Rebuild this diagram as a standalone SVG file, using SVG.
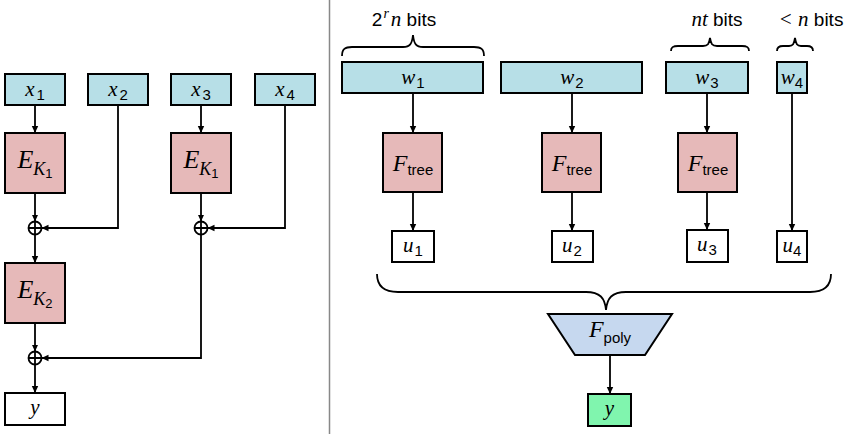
<svg xmlns="http://www.w3.org/2000/svg" width="852" height="434" viewBox="0 0 852 434">
<defs>
<marker id="ah" markerWidth="8" markerHeight="8" refX="7" refY="4" orient="auto" markerUnits="userSpaceOnUse">
<path d="M0,0.8 L7,4 L0,7.2 Z" fill="#000"/>
</marker>
<style>
.in{fill:#b7dfe7;stroke:#000;stroke-width:2}
.enc{fill:#e6b9b9;stroke:#000;stroke-width:2}
.out{fill:#fff;stroke:#000;stroke-width:2}
.ln{fill:none;stroke:#000;stroke-width:1.8}
.ar{fill:none;stroke:#000;stroke-width:1.8;marker-end:url(#ah)}
.br{fill:none;stroke:#000;stroke-width:1.8}
.m{font-family:"Liberation Serif",serif;font-style:italic;fill:#000}
.s{font-family:"Liberation Sans",sans-serif;fill:#000}
</style>
</defs>
<rect width="852" height="434" fill="#fff"/>
<line x1="329.5" y1="0" x2="329.5" y2="434" stroke="#888" stroke-width="1.5"/>

<!-- Left panel nodes -->
<g id="x1"><rect class="in" x="5" y="74" width="60" height="31"/><text x="35" y="96" text-anchor="middle"><tspan class="m" font-size="21">x</tspan><tspan class="s" font-size="15" dx="2" dy="4">1</tspan></text></g>
<g id="x2"><rect class="in" x="88" y="74" width="60" height="31"/><text x="118" y="96" text-anchor="middle"><tspan class="m" font-size="21">x</tspan><tspan class="s" font-size="15" dx="2" dy="4">2</tspan></text></g>
<g id="x3"><rect class="in" x="171" y="74" width="60" height="31"/><text x="201" y="96" text-anchor="middle"><tspan class="m" font-size="21">x</tspan><tspan class="s" font-size="15" dx="2" dy="4">3</tspan></text></g>
<g id="x4"><rect class="in" x="255" y="74" width="60" height="31"/><text x="285" y="96" text-anchor="middle"><tspan class="m" font-size="21">x</tspan><tspan class="s" font-size="15" dx="2" dy="4">4</tspan></text></g>
<g id="EK1a"><rect class="enc" x="5" y="133" width="60" height="60"/><text x="35" y="168" text-anchor="middle"><tspan class="m" font-size="26">E</tspan><tspan class="m" font-size="18" dy="7">K</tspan><tspan class="s" font-size="13" dy="3">1</tspan></text></g>
<g id="EK1b"><rect class="enc" x="171" y="133" width="60" height="60"/><text x="201" y="168" text-anchor="middle"><tspan class="m" font-size="26">E</tspan><tspan class="m" font-size="18" dy="7">K</tspan><tspan class="s" font-size="13" dy="3">1</tspan></text></g>
<g id="EK2"><rect class="enc" x="5" y="263" width="60" height="60"/><text x="35" y="298" text-anchor="middle"><tspan class="m" font-size="26">E</tspan><tspan class="m" font-size="18" dy="7">K</tspan><tspan class="s" font-size="13" dy="3">2</tspan></text></g>
<g id="yL"><rect class="out" x="5" y="393" width="60" height="32"/><text class="m" x="35" y="414" font-size="21" text-anchor="middle">y</text></g>
<g id="xor1"><circle cx="35" cy="228" r="6.5" fill="#fff" stroke="#000" stroke-width="1.8"/><path class="ln" d="M28.5,228 H41.5 M35,221.5 V234.5"/></g>
<g id="xor2"><circle cx="201" cy="228" r="6.5" fill="#fff" stroke="#000" stroke-width="1.8"/><path class="ln" d="M194.5,228 H207.5 M201,221.5 V234.5"/></g>
<g id="xor3"><circle cx="35" cy="358" r="6.5" fill="#fff" stroke="#000" stroke-width="1.8"/><path class="ln" d="M28.5,358 H41.5 M35,351.5 V364.5"/></g>

<!-- Right panel nodes -->
<g id="w1"><rect class="in" x="342" y="62" width="141" height="31"/><text x="413" y="84" text-anchor="middle"><tspan class="m" font-size="21">w</tspan><tspan class="s" font-size="15" dx="1" dy="4">1</tspan></text></g>
<g id="w2"><rect class="in" x="501" y="62" width="141" height="31"/><text x="572" y="84" text-anchor="middle"><tspan class="m" font-size="21">w</tspan><tspan class="s" font-size="15" dx="1" dy="4">2</tspan></text></g>
<g id="w3"><rect class="in" x="666" y="62" width="82" height="31"/><text x="707" y="84" text-anchor="middle"><tspan class="m" font-size="21">w</tspan><tspan class="s" font-size="15" dx="1" dy="4">3</tspan></text></g>
<g id="w4"><rect class="in" x="777" y="62" width="30" height="31"/><text x="792" y="84" text-anchor="middle"><tspan class="m" font-size="21">w</tspan><tspan class="s" font-size="15" dy="4">4</tspan></text></g>
<g id="F1"><rect class="enc" x="383" y="133" width="59" height="59"/><text x="413" y="171" text-anchor="middle"><tspan class="m" font-size="24">F</tspan><tspan class="s" font-size="15" dy="4">tree</tspan></text></g>
<g id="F2"><rect class="enc" x="542" y="133" width="59" height="59"/><text x="572" y="171" text-anchor="middle"><tspan class="m" font-size="24">F</tspan><tspan class="s" font-size="15" dy="4">tree</tspan></text></g>
<g id="F3"><rect class="enc" x="678" y="133" width="59" height="59"/><text x="708" y="171" text-anchor="middle"><tspan class="m" font-size="24">F</tspan><tspan class="s" font-size="15" dy="4">tree</tspan></text></g>
<g id="u1"><rect class="out" x="392" y="231" width="42" height="31"/><text x="413" y="252" text-anchor="middle"><tspan class="m" font-size="21">u</tspan><tspan class="s" font-size="15" dx="1" dy="4">1</tspan></text></g>
<g id="u2"><rect class="out" x="552" y="231" width="41" height="31"/><text x="572" y="252" text-anchor="middle"><tspan class="m" font-size="21">u</tspan><tspan class="s" font-size="15" dx="1" dy="4">2</tspan></text></g>
<g id="u3"><rect class="out" x="687" y="230" width="41" height="32"/><text x="707" y="251" text-anchor="middle"><tspan class="m" font-size="21">u</tspan><tspan class="s" font-size="15" dx="1" dy="4">3</tspan></text></g>
<g id="u4"><rect class="out" x="777" y="231" width="30" height="31"/><text x="792" y="252" text-anchor="middle"><tspan class="m" font-size="21">u</tspan><tspan class="s" font-size="15" dy="4">4</tspan></text></g>
<g id="Fpoly"><path d="M548,314 H672 L645,355 H575 Z" fill="#c6d8ef" stroke="#000" stroke-width="2"/><text x="610" y="337" text-anchor="middle"><tspan class="m" font-size="24">F</tspan><tspan class="s" font-size="15" dy="6">poly</tspan></text></g>
<g id="yR"><rect x="588" y="394" width="43" height="32" fill="#80f5ae" stroke="#000" stroke-width="2"/><text class="m" x="609.5" y="415" font-size="21" text-anchor="middle">y</text></g>

<!-- braces and labels -->
<g id="labels">
<path class="br" d="M342,56 C342,49 345,47 352,47 L403,47 C410,47 412,44 413,35 C414,44 416,47 423,47 L474,47 C481,47 484,49 484,56"/>
<path class="br" d="M671,51 C671,47 673,46 678,46 L703,46 C708,46 709,44 710,38 C711,44 712,46 717,46 L742,46 C747,46 749,47 749,51"/>
<path class="br" d="M777,51 C777,47 779,46 783,46 L789,46 C793,46 794,44 795,38 C796,44 797,46 801,46 L807,46 C811,46 813,47 813,51"/>
<path class="br" d="M377,274 C377,286 384,292 398,292 L586,292 C600,292 605,298 606,310 C607,298 612,292 626,292 L810,292 C824,292 831,286 831,274"/>
<text x="404" y="26" text-anchor="middle"><tspan class="s" font-size="19">2</tspan><tspan class="m" font-size="14" dx="1" dy="-8">r</tspan><tspan class="m" font-size="21" dx="2" dy="8">n</tspan><tspan class="s" font-size="19"> bits</tspan></text>
<text x="717" y="26" text-anchor="middle"><tspan class="m" font-size="21">nt</tspan><tspan class="s" font-size="19"> bits</tspan></text>
<text x="811" y="26" text-anchor="middle"><tspan class="m" font-size="21" font-style="normal">&lt; </tspan><tspan class="m" font-size="21">n</tspan><tspan class="s" font-size="19"> bits</tspan></text>
</g>

<!-- connectors -->
<g id="connectors">
<path class="ar" d="M35,105 V133"/>
<path class="ar" d="M201,105 V133"/>
<path class="ar" d="M35,193 V221.5"/>
<path class="ar" d="M201,193 V221.5"/>
<path class="ar" d="M118,105 V228 H41.5"/>
<path class="ar" d="M285,105 V228 H207.5"/>
<path class="ar" d="M35,234.5 V263"/>
<path class="ar" d="M35,323 V351.5"/>
<path class="ar" d="M201,234.5 V358 H41.5"/>
<path class="ar" d="M35,364.5 V393"/>
<path class="ar" d="M413,93 V133"/>
<path class="ar" d="M572,93 V133"/>
<path class="ar" d="M707,93 V133"/>
<path class="ar" d="M413,192 V231"/>
<path class="ar" d="M572,192 V231"/>
<path class="ar" d="M707,192 V230"/>
<path class="ar" d="M792,93 V231"/>
<path class="ar" d="M610,355 V394"/>
</g>
</svg>
